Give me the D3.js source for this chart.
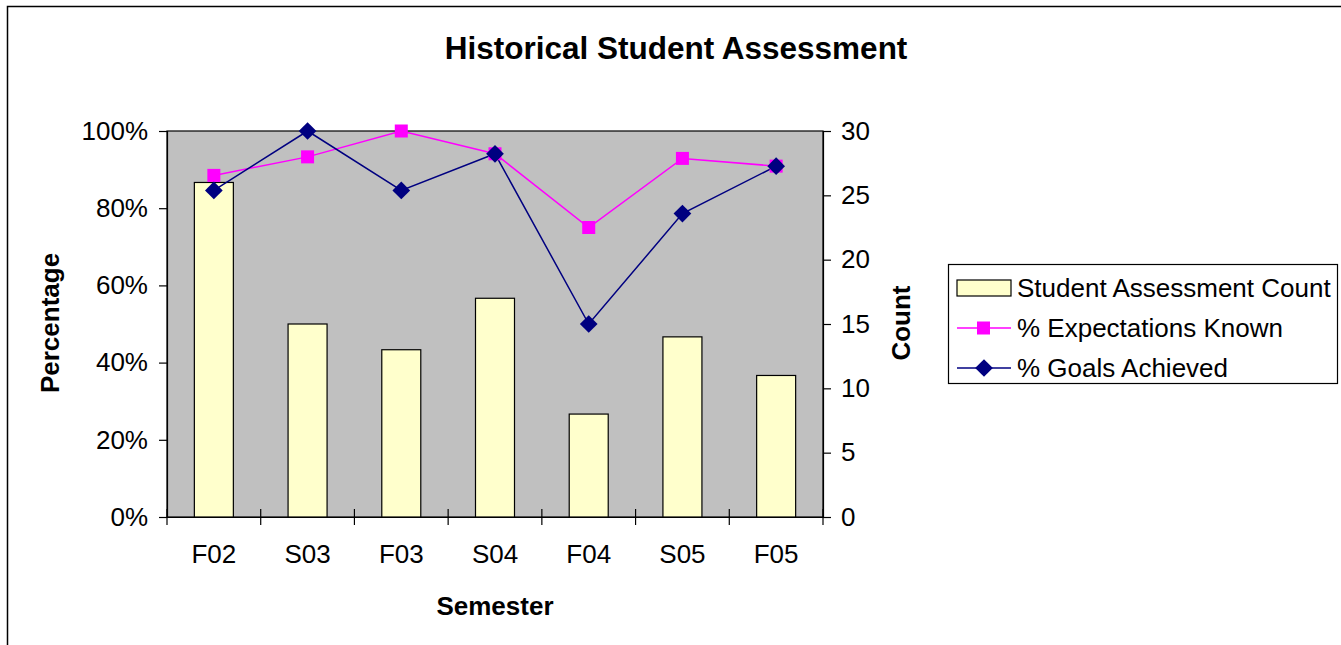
<!DOCTYPE html>
<html><head><meta charset="utf-8">
<script src="https://cdn.jsdelivr.net/npm/d3@7"></script>
<style>body{margin:0;background:#fff}svg{display:block;font-family:"Liberation Sans",Arial,sans-serif}</style>
</head><body><svg id="c" width="1341" height="645"></svg>
<script>
const semesters = ["F02","S03","F03","S04","F04","S05","F05"];
const assessmentCount = [26,15,13,17,8,14,11];
const expectationsKnown = [0.885,0.933,1.0,0.941,0.75,0.929,0.909];
const goalsAchieved = [0.846,1.0,0.846,0.941,0.5,0.786,0.909];
const pctTicks = [0,0.2,0.4,0.6,0.8,1.0];
const countTicks = [0,5,10,15,20,25,30];

const svg = d3.select("#c");
const L=167,R=823,T=131,B=517;
svg.append("rect").attr("x",7.5).attr("y",6.5).attr("width",1400).attr("height",700).attr("fill","#fff").attr("stroke","#000").attr("stroke-width",1.5);

const xb = d3.scaleBand().domain(semesters).range([L,R]);
const yP = d3.scaleLinear().domain([0,1]).range([B,T]);
const yC = d3.scaleLinear().domain([0,30]).range([B,T]);

svg.append("rect").attr("x",L).attr("y",T).attr("width",R-L).attr("height",B-T).attr("fill","#C0C0C0").attr("stroke","#000").attr("stroke-width",1.2);

// bars
svg.selectAll(".bar").data(semesters).join("rect")
  .attr("x",d=>xb(d)+xb.bandwidth()/2-19.5).attr("width",39)
  .attr("y",(d,i)=>yC(assessmentCount[i])).attr("height",(d,i)=>B-yC(assessmentCount[i]))
  .attr("fill","#FFFFCC").attr("stroke","#000").attr("stroke-width",1.2);

// axes
const fs = 26;
const gl = svg.append("g").attr("transform",`translate(${L},0)`)
  .call(d3.axisLeft(yP).tickValues(pctTicks).tickFormat(d3.format(".0%")).tickSize(8).tickPadding(11));
const gr = svg.append("g").attr("transform",`translate(${R},0)`)
  .call(d3.axisRight(yC).tickValues(countTicks).tickSize(8).tickPadding(10));
const gb = svg.append("g").attr("transform",`translate(0,${B})`)
  .call(d3.axisBottom(xb).tickSize(0).tickPadding(28));
[gl,gr,gb].forEach(g=>{g.select(".domain").attr("stroke","#000").attr("stroke-width",1.2);
  g.selectAll("line").attr("stroke","#000").attr("stroke-width",1.2);
  g.selectAll("text").attr("font-size",fs).attr("fill","#000").attr("font-family","Liberation Sans, Arial, sans-serif");});
// category boundary ticks
const bounds = semesters.map(d=>xb(d)).concat([R]);
svg.selectAll(".ct").data(bounds).join("line").attr("x1",d=>d).attr("x2",d=>d).attr("y1",B-8).attr("y2",B+8).attr("stroke","#000").attr("stroke-width",1.2);

// lines
const cx = d=>xb(d)+xb.bandwidth()/2;
const lineP = d3.line().x((d,i)=>cx(semesters[i])).y(d=>yP(d));
svg.append("path").attr("d",lineP(expectationsKnown)).attr("fill","none").attr("stroke","#FF00FF").attr("stroke-width",1.5);
svg.append("path").attr("d",lineP(goalsAchieved)).attr("fill","none").attr("stroke","#000080").attr("stroke-width",1.5);
svg.selectAll(".sq").data(expectationsKnown).join("rect")
  .attr("x",(d,i)=>cx(semesters[i])-6.5).attr("y",d=>yP(d)-6.5).attr("width",13).attr("height",13).attr("fill","#FF00FF");
const diamond = d3.symbol().type(d3.symbolDiamond2).size(200);
svg.selectAll(".dm").data(goalsAchieved).join("path")
  .attr("transform",(d,i)=>`translate(${cx(semesters[i])},${yP(d)})`).attr("d",diamond).attr("fill","#000080");

// titles
svg.append("text").attr("x",676).attr("y",59).attr("text-anchor","middle").attr("font-weight","bold").attr("font-size",31.5).text("Historical Student Assessment");
svg.append("text").attr("transform","translate(59,323) rotate(-90)").attr("text-anchor","middle").attr("font-weight","bold").attr("font-size",26).text("Percentage");
svg.append("text").attr("transform","translate(910,323) rotate(-90)").attr("text-anchor","middle").attr("font-weight","bold").attr("font-size",26).text("Count");
svg.append("text").attr("x",495).attr("y",615).attr("text-anchor","middle").attr("font-weight","bold").attr("font-size",26).text("Semester");

// legend
const lg = svg.append("g");
lg.append("rect").attr("x",948.5).attr("y",264.5).attr("width",389).attr("height",119).attr("fill","#fff").attr("stroke","#000").attr("stroke-width",1.2);
const legendLabels = ["Student Assessment Count","% Expectations Known","% Goals Achieved"];
const ly = [288,328,368];
lg.append("rect").attr("x",957).attr("y",280).attr("width",54).attr("height",16).attr("fill","#FFFFCC").attr("stroke","#000").attr("stroke-width",1.2);
lg.append("line").attr("x1",957).attr("x2",1011).attr("y1",ly[1]).attr("y2",ly[1]).attr("stroke","#FF00FF").attr("stroke-width",1.5);
lg.append("rect").attr("x",977).attr("y",ly[1]-6.5).attr("width",13).attr("height",13).attr("fill","#FF00FF");
lg.append("line").attr("x1",957).attr("x2",1011).attr("y1",ly[2]).attr("y2",ly[2]).attr("stroke","#000080").attr("stroke-width",1.5);
lg.append("path").attr("transform",`translate(984,${ly[2]})`).attr("d",diamond).attr("fill","#000080");
lg.selectAll(".lt").data(legendLabels).join("text").attr("x",1017).attr("y",(d,i)=>ly[i]+9).attr("font-size",fs).text(d=>d);
</script></body></html>
